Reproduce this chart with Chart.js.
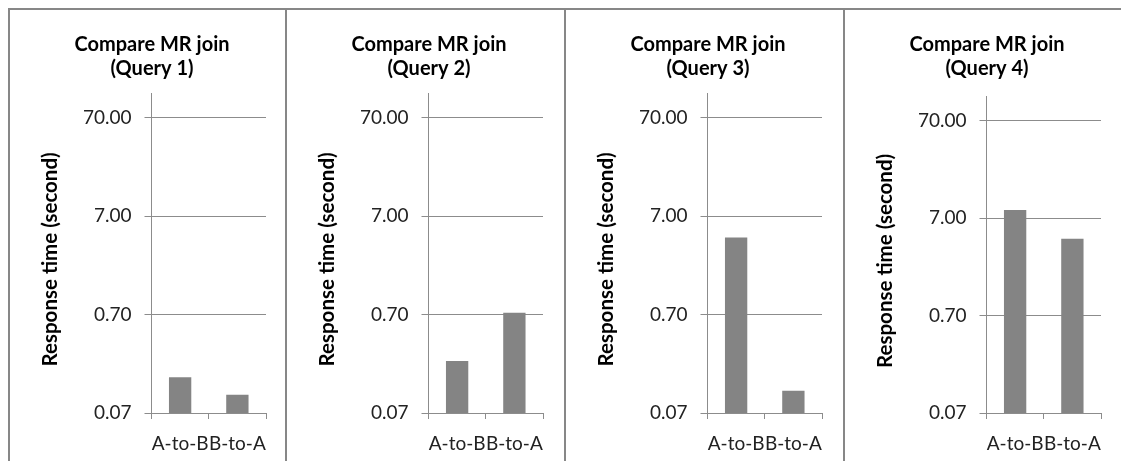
<!DOCTYPE html>
<html>
<head>
<meta charset="utf-8">
<script src="https://cdn.jsdelivr.net/npm/chart.js@4/dist/chart.umd.min.js"></script>
<style>
  html, body { margin: 0; padding: 0; background: #fff; }
  body { width: 1121px; height: 461px; position: relative; overflow: hidden; }
  .panel {
    position: absolute; top: 8px; height: 453px;
    border-left: 2px solid #878787; border-top: 2px solid #878787;
  }
  .panel canvas { display: block; }
</style>
</head>
<body>
<div id="wrap"></div>
<script>
// data (log scale, seconds)
const categories = ["A-to-B", "B-to-A"];
const queryNames = ["(Query 1)", "(Query 2)", "(Query 3)", "(Query 4)"];
const aToB = [0.162, 0.236, 4.26, 8.46];
const bToA = [0.107, 0.73, 0.118, 4.30];
const tickValues = [0.07, 0.7, 7, 70];
const axisMax = 122.8;
const yTitle = "Response time (second)";

// layout
const panelLeft = [8, 285, 564, 843];
const extraTop = [0, 0, 0, 3];
const lineColor = "#8c8c8c";
const fontFamily = "Lato, 'Open Sans', sans-serif";

// y axis title, drawn a little below the plot centre like the original
const yTitlePlugin = {
    id: "yTitle",
    afterDraw(chart) {
        const ctx = chart.ctx;
        const area = chart.chartArea;
        ctx.save();
        ctx.translate(40, (area.top + area.bottom) / 2 + 6);
        ctx.rotate(-Math.PI / 2);
        ctx.font = "bold 20.5px " + fontFamily;
        ctx.fillStyle = "#000";
        ctx.textAlign = "center";
        ctx.textBaseline = "middle";
        ctx.fillText(yTitle, 0, 0);
        ctx.restore();
    },
};

const wrap = document.getElementById("wrap");

queryNames.forEach((q, i) => {
    const left = panelLeft[i];
    const right = i < 3 ? panelLeft[i + 1] : 1121;
    const w = right - left - 2;
    const div = document.createElement("div");
    div.className = "panel";
    div.style.left = left + "px";
    div.style.width = w + "px";
    const canvas = document.createElement("canvas");
    canvas.width = w;
    canvas.height = 451;
    div.appendChild(canvas);
    wrap.appendChild(div);

    new Chart(canvas.getContext("2d"), {
        type: "bar",
        data: {
            labels: categories,
            datasets: [{
                data: [aToB[i], bToA[i]],
                backgroundColor: "#848484",
                borderWidth: 0,
                categoryPercentage: 1,
                barPercentage: 0.39,
            }],
        },
        plugins: [yTitlePlugin],
        options: {
            responsive: false,
            animation: false,
            devicePixelRatio: 1,
            layout: { padding: { left: 28, right: w - 256, top: 0, bottom: 0 } },
            plugins: {
                legend: { display: false },
                tooltip: { enabled: false },
                title: {
                    display: true,
                    text: ["Compare MR join", q],
                    color: "#000",
                    font: { family: fontFamily, size: 20, weight: "bold", lineHeight: 1.22 },
                    padding: { top: 22, bottom: 13 + extraTop[i] },
                },
            },
            scales: {
                x: {
                    offset: true,
                    afterFit: s => { s.height = 48; },
                    grid: {
                        offset: true,
                        drawOnChartArea: false,
                        drawTicks: true,
                        tickLength: 6,
                        color: lineColor,
                    },
                    border: { color: lineColor },
                    ticks: {
                        autoSkip: false,
                        maxRotation: 0,
                        minRotation: 0,
                        padding: 13,
                        color: "#222",
                        font: { family: fontFamily, size: 19 },
                    },
                },
                y: {
                    type: "logarithmic",
                    min: tickValues[0],
                    max: axisMax,
                    afterFit: s => { s.width = 113.5; },
                    afterBuildTicks: s => { s.ticks = tickValues.map(v => ({ value: v })); },
                    grid: {
                        color: lineColor,
                        tickLength: 7,
                    },
                    border: { color: lineColor },
                    ticks: {
                        padding: 13,
                        color: "#222",
                        font: { family: fontFamily, size: 19 },
                        callback: v => Number(v).toFixed(2),
                    },
                    title: { display: false },
                },
            },
        },
    });
});
</script>
</body>
</html>
